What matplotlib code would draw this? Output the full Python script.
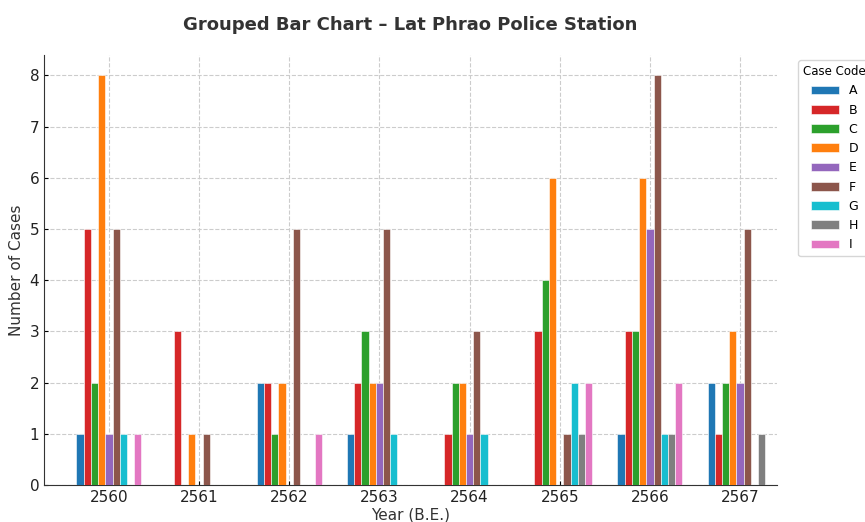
import numpy as np
import matplotlib.pyplot as plt

years = ["2560", "2561", "2562", "2563", "2564", "2565", "2566", "2567"]
codes = ["A", "B", "C", "D", "E", "F", "G", "H", "I"]

case_a = [1, 0, 2, 1, 0, 0, 1, 2]
case_b = [5, 3, 2, 2, 1, 3, 3, 1]
case_c = [2, 0, 1, 3, 2, 4, 3, 2]
case_d = [8, 1, 2, 2, 2, 6, 6, 3]
case_e = [1, 0, 0, 2, 1, 0, 5, 2]
case_f = [5, 1, 5, 5, 3, 1, 8, 5]
case_g = [1, 0, 0, 1, 1, 2, 1, 0]
case_h = [0, 0, 0, 0, 0, 1, 1, 1]
case_i = [1, 0, 1, 0, 0, 2, 2, 0]

series = [case_a, case_b, case_c, case_d, case_e, case_f, case_g, case_h, case_i]
colors = ["#1f77b4", "#d62728", "#2ca02c", "#ff7f0e", "#9467bd",
          "#8c564b", "#17becf", "#7f7f7f", "#e377c2"]

fig = plt.figure(figsize=(8.65, 5.22), dpi=100)
ax = fig.add_axes([0.0509, 0.0709, 0.8474, 0.8238])

x = np.arange(len(years))
w = 0.08
for i, (vals, code) in enumerate(zip(series, codes)):
    ax.bar(x + (i - 4) * w, vals, width=w, color=colors[i], label=code,
           edgecolor="white", linewidth=0.4, zorder=3)

ax.set_xticks(x)
ax.set_xticklabels(years, fontsize=11, color="#222222")
ax.set_yticks(range(0, 9))
ax.tick_params(axis="y", labelsize=11, labelcolor="#222222")
ax.tick_params(direction="in", length=3)
ax.set_xlim(-0.72, 7.41)
ax.set_ylim(0, 8.4)

ax.grid(True, linestyle="--", color="#cccccc", linewidth=0.8, zorder=0)
ax.spines["top"].set_visible(False)
ax.spines["right"].set_visible(False)
ax.spines["left"].set_color("#333333")
ax.spines["bottom"].set_color("#333333")

ax.set_xlabel("Year (B.E.)", fontsize=11, color="#333333", labelpad=2)
ax.set_ylabel("Number of Cases", fontsize=11, color="#333333")
ax.set_title("Grouped Bar Chart \u2013 Lat Phrao Police Station",
             fontsize=13, fontweight="bold", color="#333333", pad=18)

leg = ax.legend(title="Case Code", loc="upper left", bbox_to_anchor=(1.029, 0.988),
                borderaxespad=0, fontsize=9, title_fontsize=8.5, frameon=True,
                labelspacing=0.5, handlelength=2.2)
leg.get_frame().set_edgecolor("#cccccc")

fig.savefig("out.png", dpi=100)
